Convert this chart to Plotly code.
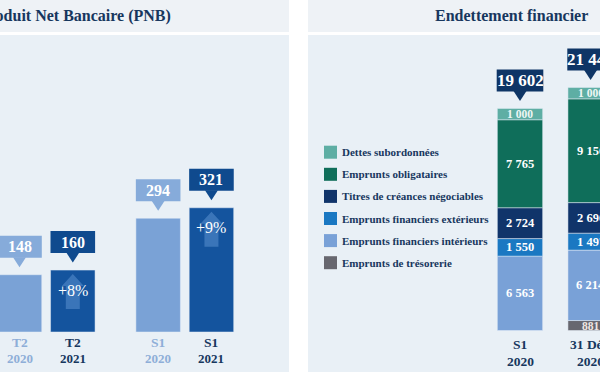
import numpy as np
import plotly.graph_objects as go

# ------------------------------------------------------------------ data
pnb_title = "Produit Net Bancaire (PNB)"
pnb_periods = ["T2", "S1"]
pnb_years = ["2020", "2021"]
pnb_2020 = [148, 294]
pnb_2021 = [160, 321]

debt_title = "Endettement financier"
debt_periods = ["S1 2020", "31 Déc. 2020"]
debt_period_top = ["S1", "31 Déc."]
debt_period_year = ["2020", "2020"]
debt_series = [
    "Emprunts de trésorerie",
    "Emprunts financiers intérieurs",
    "Emprunts financiers extérieurs",
    "Titres de créances négociables",
    "Emprunts obligataires",
    "Dettes subordonnées",
]
tresorerie = [0, 881]
fin_interieurs = [6563, 6214]
fin_exterieurs = [1550, 1497]
titres = [2724, 2696]
obligataires = [7765, 9156]
subordonnees = [1000, 1000]

# ------------------------------------------------------------------ style
W, H = 600, 372
FONT = "Liberation Serif, DejaVu Serif, serif"
NAVY = "#17375e"
C_LIGHT = "#7aa2d6"
C_DARK = "#14549e"
C_BOX_LIGHT = "#86abda"
C_BOX_DARK = "#0f4a8e"
C_TOTAL = "#0e3566"
BAND = "#eef2f6"
BODY = "#e9f0f6"
debt_colors = ["#67676f", "#79a1d7", "#1a78c2", "#10346a", "#0f6e5a", "#5eaea4"]
debt_text_colors = ["#efe6e2", "white", "white", "white", "white", "#eef6f4"]

BARGAP, BARGROUPGAP = 0.2312, 0.165


def fmt(v):
    return f"{int(round(v)):,}".replace(",", " ")


def px_range(p0, p1, c0, step):
    return [(p0 - c0) / step, (p1 - c0) / step]


def y_range(zero_px, scale):
    return [-(H - zero_px) / scale, zero_px / scale]


def px(x):
    return x / W


def py(y):
    return 1 - y / H


fig = go.Figure()

# ------------------------------------------------------------------ left panel bars
fig.add_bar(x=pnb_periods, y=pnb_2020, name=pnb_years[0], marker_color=C_LIGHT,
            xaxis="x", yaxis="y", showlegend=False, hoverinfo="skip")
fig.add_bar(x=pnb_periods, y=pnb_2021, name=pnb_years[1], marker_color=C_DARK,
            xaxis="x", yaxis="y", showlegend=False, hoverinfo="skip")

# ------------------------------------------------------------------ right panel stacked bars
debt_values = np.array([tresorerie, fin_interieurs, fin_exterieurs, titres,
                        obligataires, subordonnees], dtype=float)
bases = np.vstack([np.zeros(len(debt_periods)), np.cumsum(debt_values, axis=0)[:-1]])
totals = debt_values.sum(axis=0)
for name, vals, base, col in zip(debt_series, debt_values, bases, debt_colors):
    fig.add_bar(x=debt_periods, y=vals, base=base, name=name, offsetgroup="debt",
                marker_color=col, xaxis="x2", yaxis="y2", showlegend=False,
                hoverinfo="skip")

shapes = []
annots = []

# panel backgrounds
for (a, b) in [(0, 289), (308, 600)]:
    shapes.append(dict(type="rect", xref="paper", yref="paper", x0=px(a), x1=px(b),
                       y0=py(0), y1=py(32), fillcolor=BAND, line_width=0, layer="below"))
    shapes.append(dict(type="rect", xref="paper", yref="paper", x0=px(a), x1=px(b),
                       y0=py(35), y1=py(H), fillcolor=BODY, line_width=0, layer="below"))

# titles
annots.append(dict(xref="paper", yref="paper", x=px(173), y=py(16), xanchor="right",
                   yanchor="middle", text=f"<b>{pnb_title}</b>", showarrow=False,
                   font=dict(family=FONT, size=16, color=NAVY)))
annots.append(dict(xref="paper", yref="paper", x=px(511.5), y=py(16), xanchor="center",
                   yanchor="middle", text=f"<b>{debt_title}</b>", showarrow=False,
                   font=dict(family=FONT, size=16, color=NAVY)))


def callout(xref, yref, xa, ya, half_w, color, text, size):
    shapes.append(dict(type="rect", xref=xref, yref=yref, xsizemode="pixel",
                       ysizemode="pixel", xanchor=xa, yanchor=ya, x0=-half_w, x1=half_w,
                       y0=17, y1=39, fillcolor=color, line_width=0, layer="above"))
    shapes.append(dict(type="path", xref=xref, yref=yref, xsizemode="pixel",
                       ysizemode="pixel", xanchor=xa, yanchor=ya,
                       path="M -6.5,17.5 L 6.5,17.5 L 0,7.5 Z",
                       fillcolor=color, line_width=0, layer="above"))
    annots.append(dict(xref=xref, yref=yref, x=xa, y=ya, yshift=28, showarrow=False,
                       text=f"<b>{text}</b>", xanchor="center", yanchor="middle",
                       font=dict(family=FONT, size=size, color="white")))


# ------------------------------------------------------------------ left annotations
slot = (1 - BARGAP) / 2
offs = [-slot / 2, slot / 2]
year_vals = [pnb_2020, pnb_2021]
box_cols = [C_BOX_LIGHT, C_BOX_DARK]
lab_cols = ["#8eaed8", NAVY]
for i, per in enumerate(pnb_periods):
    for j, yr in enumerate(pnb_years):
        xa = i + offs[j]
        v = year_vals[j][i]
        callout("x", "y", xa, v, 22.3, box_cols[j], str(v), 16)
        annots.append(dict(xref="x", yref="y", x=xa, y=0, yshift=-10, showarrow=False,
                           text=f"<b>{per}</b>", yanchor="middle",
                           font=dict(family=FONT, size=13.5, color=lab_cols[j])))
        annots.append(dict(xref="x", yref="y", x=xa, y=0, yshift=-26, showarrow=False,
                           text=f"<b>{yr}</b>", yanchor="middle",
                           font=dict(family=FONT, size=13, color=lab_cols[j])))
    # growth arrow inside the 2021 bar
    xa = i + offs[1]
    v = pnb_2021[i]
    shapes.append(dict(type="path", xref="x", yref="y", xsizemode="pixel",
                       ysizemode="pixel", xanchor=xa, yanchor=v,
                       path="M 0,-4 L 11,-16 L 7,-16 L 7,-39 L -7,-39 L -7,-16 L -11,-16 Z",
                       fillcolor="rgba(120,170,230,0.38)", line_width=0, layer="above"))
    pct = round((pnb_2021[i] / pnb_2020[i] - 1) * 100)
    annots.append(dict(xref="x", yref="y", x=xa, y=v, yshift=-20, showarrow=False,
                       text=f"+{pct}%", yanchor="middle",
                       font=dict(family=FONT, size=16, color="white")))

# ------------------------------------------------------------------ right annotations
for k in range(len(debt_series)):
    for j, per in enumerate(debt_periods):
        v = debt_values[k][j]
        if v <= 0:
            continue
        annots.append(dict(xref="x2", yref="y2", x=j, y=bases[k][j] + v / 2,
                           showarrow=False, text=f"<b>{fmt(v)}</b>", yanchor="middle",
                           font=dict(family=FONT, size=12.5 if v > 1200 else 11.5,
                                     color=debt_text_colors[k])))
for j, per in enumerate(debt_periods):
    callout("x2", "y2", j, totals[j], 23.3, C_TOTAL, fmt(totals[j]), 17)
    annots.append(dict(xref="x2", yref="y2", x=j, y=0, yshift=-13.5, showarrow=False,
                       text=f"<b>{debt_period_top[j]}</b>", yanchor="middle",
                       font=dict(family=FONT, size=13.5, color=NAVY)))
    annots.append(dict(xref="x2", yref="y2", x=j, y=0, yshift=-31, showarrow=False,
                       text=f"<b>{debt_period_year[j]}</b>", yanchor="middle",
                       font=dict(family=FONT, size=13.5, color=NAVY)))

# custom legend (top entry = top of stack)
for r, k in enumerate(range(len(debt_series) - 1, -1, -1)):
    yc = 152.2 + 22.1 * r
    shapes.append(dict(type="rect", xref="paper", yref="paper", x0=px(324), x1=px(337),
                       y0=py(yc - 6.5), y1=py(yc + 6.5), fillcolor=debt_colors[k],
                       line_width=0, layer="above"))
    annots.append(dict(xref="paper", yref="paper", x=px(340), y=py(yc), xanchor="left",
                       yanchor="middle", showarrow=False, text=f"<b>{debt_series[k]}</b>",
                       font=dict(family=FONT, size=11, color=NAVY)))

# ------------------------------------------------------------------ axes
ax_common = dict(showgrid=False, zeroline=False, showticklabels=False, ticks="",
                 showline=False, fixedrange=True)
fig.update_layout(
    width=W, height=H, margin=dict(l=0, r=0, t=0, b=0),
    paper_bgcolor="white", plot_bgcolor="rgba(0,0,0,0)",
    barmode="group", bargap=BARGAP, bargroupgap=BARGROUPGAP,
    showlegend=False,
    xaxis=dict(domain=[0, px(289)], type="category", categoryorder="array",
               categoryarray=pnb_periods, range=px_range(0, 289, 46.15, 138.65),
               anchor="y", **ax_common),
    yaxis=dict(domain=[0, 1], range=y_range(332, 0.387), anchor="x", **ax_common),
    xaxis2=dict(domain=[px(308), 1], type="category", categoryorder="array",
                categoryarray=debt_periods, range=px_range(308, 600, 520, 70.6),
                anchor="y2", **ax_common),
    yaxis2=dict(domain=[0, 1], range=y_range(330.5, 0.01133), anchor="x2", **ax_common),
    shapes=shapes,
    annotations=annots,
)

fig.write_html(
    "out.html",
    config={"displayModeBar": False, "staticPlot": True},
    post_script="document.body.style.margin='0px';document.body.style.padding='0px';",
)
